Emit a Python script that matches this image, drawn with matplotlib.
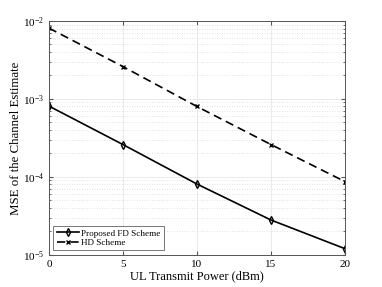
import matplotlib
matplotlib.use("Agg")
import matplotlib.pyplot as plt

plt.rcParams['font.family'] = ['Liberation Serif', 'DejaVu Serif']
plt.rcParams['mathtext.fontset'] = 'stix'

power = [0, 5, 10, 15, 20]
mse_fd = [8.1e-4, 2.6e-4, 8.1e-5, 2.8e-5, 1.2e-5]
mse_hd = [8.1e-3, 2.6e-3, 8.0e-4, 2.6e-4, 8.7e-5]

fig = plt.figure(figsize=(3.82, 2.87), dpi=100)
ax = fig.add_axes([0.128, 0.112, 0.775, 0.815])

ax.semilogy(power, mse_fd, '-', color='k', lw=1.2, marker='d', ms=4,
            mfc='none', mew=1.0, label='Proposed FD Scheme')
ax.semilogy(power, mse_hd, '--', color='k', lw=1.2, marker='x', ms=3,
            mew=1.0, dashes=(5, 3), label='HD Scheme')

ax.set_xlim(0, 20)
ax.set_ylim(1e-5, 1e-2)
ax.set_xticks([0, 5, 10, 15, 20])
ax.grid(True, which='major', color='#e6e6e6', lw=0.6, ls='-')
ax.grid(True, which='minor', color='#d8d8d8', lw=0.6, ls=(0, (1, 2)))
ax.tick_params(which='both', direction='in', labelsize=8, top=True, right=True,
               color='#555555', length=3)
ax.tick_params(which='minor', length=1.5)
for s in ax.spines.values():
    s.set_color('#555555')
    s.set_linewidth(0.7)

ax.set_xlabel('UL Transmit Power (dBm)', fontsize=9, labelpad=1)
ax.set_ylabel('MSE of the Channel Estimate', fontsize=9.3)
ax.yaxis.set_label_coords(-0.09, 0.5)

leg = ax.legend(loc='lower left', fontsize=6.6, fancybox=False, edgecolor='#555555',
                handlelength=2.4, borderpad=0.35, labelspacing=0.12,
                borderaxespad=0.5, handletextpad=0.3)
leg.get_frame().set_linewidth(0.7)

fig.savefig('out.png', dpi=100)
